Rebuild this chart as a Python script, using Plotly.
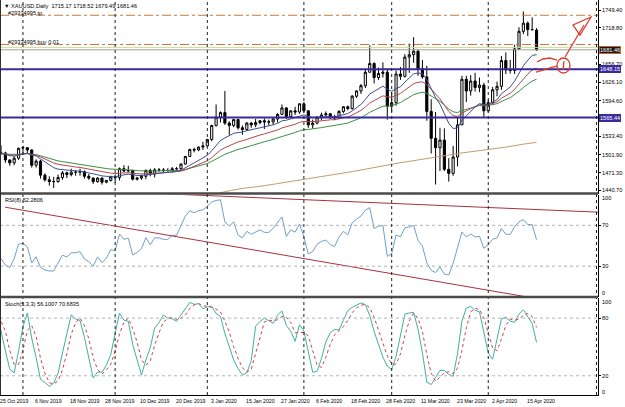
import plotly.graph_objects as go

# ---------------- data ----------------
dates = [
    "2019-10-24", "2019-10-25", "2019-10-28", "2019-10-29", "2019-10-30", "2019-10-31",
    "2019-11-01", "2019-11-04", "2019-11-05", "2019-11-06", "2019-11-07", "2019-11-08",
    "2019-11-11", "2019-11-12", "2019-11-13", "2019-11-14", "2019-11-15", "2019-11-18",
    "2019-11-19", "2019-11-20", "2019-11-21", "2019-11-22", "2019-11-25", "2019-11-26",
    "2019-11-27", "2019-11-28", "2019-11-29", "2019-12-02", "2019-12-03", "2019-12-04",
    "2019-12-05", "2019-12-06", "2019-12-09", "2019-12-10", "2019-12-11", "2019-12-12",
    "2019-12-13", "2019-12-16", "2019-12-17", "2019-12-18", "2019-12-19", "2019-12-20",
    "2019-12-23", "2019-12-24", "2019-12-26", "2019-12-27", "2019-12-30", "2019-12-31",
    "2020-01-02", "2020-01-03", "2020-01-06", "2020-01-07", "2020-01-08", "2020-01-09",
    "2020-01-10", "2020-01-13", "2020-01-14", "2020-01-15", "2020-01-16", "2020-01-17",
    "2020-01-20", "2020-01-21", "2020-01-22", "2020-01-23", "2020-01-24", "2020-01-27",
    "2020-01-28", "2020-01-29", "2020-01-30", "2020-01-31", "2020-02-03", "2020-02-04",
    "2020-02-05", "2020-02-06", "2020-02-07", "2020-02-10", "2020-02-11", "2020-02-12",
    "2020-02-13", "2020-02-14", "2020-02-17", "2020-02-18", "2020-02-19", "2020-02-20",
    "2020-02-21", "2020-02-24", "2020-02-25", "2020-02-26", "2020-02-27", "2020-02-28",
    "2020-03-02", "2020-03-03", "2020-03-04", "2020-03-05", "2020-03-06", "2020-03-09",
    "2020-03-10", "2020-03-11", "2020-03-12", "2020-03-13", "2020-03-16", "2020-03-17",
    "2020-03-18", "2020-03-19", "2020-03-20", "2020-03-23", "2020-03-24", "2020-03-25",
    "2020-03-26", "2020-03-27", "2020-03-30", "2020-03-31", "2020-04-01", "2020-04-02",
    "2020-04-03", "2020-04-06", "2020-04-07", "2020-04-08", "2020-04-09", "2020-04-13",
    "2020-04-14", "2020-04-15", "2020-04-16", "2020-04-17",
]
open_ = [1491, 1504, 1505, 1493, 1488, 1496, 1513, 1514, 1510, 1484, 1491, 1467,
         1459, 1456, 1456, 1463, 1471, 1468, 1472, 1472, 1473, 1465, 1462, 1456,
         1462, 1455, 1458, 1464, 1463, 1478, 1474, 1475, 1460, 1462, 1465, 1475,
         1469, 1476, 1476, 1475, 1475, 1478, 1478, 1486, 1499, 1511, 1510, 1515,
         1517, 1528, 1552, 1566, 1574, 1556, 1552, 1562, 1548, 1545, 1556, 1553,
         1557, 1560, 1558, 1558, 1563, 1571, 1582, 1567, 1577, 1575, 1589, 1577,
         1553, 1556, 1566, 1570, 1572, 1567, 1565, 1576, 1584, 1581, 1602, 1611,
         1620, 1643, 1658, 1634, 1641, 1643, 1585, 1591, 1640, 1636, 1669, 1673,
         1679, 1649, 1635, 1576, 1530, 1514, 1527, 1477, 1470, 1498, 1553, 1631,
         1611, 1628, 1617, 1621, 1577, 1591, 1613, 1619, 1663, 1647, 1646, 1683,
         1713, 1727, 1716, 1715.17]
high = [1506, 1518, 1507, 1494, 1499, 1514, 1517, 1515, 1511, 1494, 1493, 1470,
        1465, 1464, 1468, 1474, 1473, 1478, 1476, 1478, 1475, 1469, 1463, 1463,
        1463, 1458, 1466, 1468, 1480, 1484, 1483, 1476, 1464, 1468, 1477, 1478,
        1479, 1479, 1479, 1479, 1481, 1481, 1487, 1500, 1512, 1514, 1516, 1524,
        1529, 1553, 1588, 1576, 1611, 1559, 1563, 1563, 1552, 1558, 1558, 1563,
        1561, 1564, 1562, 1566, 1573, 1588, 1583, 1578, 1584, 1590, 1592, 1578,
        1562, 1568, 1574, 1576, 1573, 1570, 1578, 1585, 1586, 1604, 1612, 1623,
        1649, 1689, 1660, 1651, 1660, 1649, 1609, 1646, 1652, 1674, 1692, 1703,
        1682, 1664, 1654, 1597, 1575, 1548, 1547, 1496, 1517, 1566, 1637, 1637,
        1638, 1642, 1634, 1625, 1596, 1618, 1627, 1671, 1677, 1664, 1690, 1720,
        1747, 1730, 1737, 1718.52]
low = [1490, 1502, 1488, 1483, 1484, 1493, 1504, 1504, 1480, 1480, 1461, 1456,
       1449, 1445, 1454, 1459, 1462, 1465, 1466, 1466, 1461, 1459, 1452, 1454,
       1451, 1453, 1456, 1454, 1458, 1472, 1472, 1458, 1458, 1459, 1460, 1465,
       1463, 1473, 1472, 1473, 1472, 1475, 1476, 1485, 1498, 1506, 1508, 1510,
       1516, 1525, 1550, 1557, 1553, 1536, 1549, 1545, 1536, 1543, 1548, 1549,
       1554, 1546, 1552, 1553, 1557, 1570, 1563, 1565, 1570, 1572, 1574, 1548,
       1547, 1554, 1561, 1568, 1563, 1561, 1563, 1573, 1578, 1579, 1599, 1606,
       1616, 1643, 1624, 1630, 1634, 1562, 1575, 1586, 1630, 1634, 1642, 1659,
       1637, 1632, 1560, 1504, 1451, 1474, 1474, 1456, 1466, 1482, 1553, 1592,
       1603, 1610, 1609, 1565, 1574, 1588, 1602, 1613, 1640, 1641, 1640, 1681,
       1708, 1705, 1714, 1679.49]
close = [1504, 1505, 1493, 1488, 1496, 1513, 1514, 1510, 1484, 1491, 1467, 1459,
         1456, 1456, 1463, 1471, 1468, 1472, 1472, 1473, 1465, 1462, 1456, 1462,
         1455, 1458, 1464, 1463, 1478, 1474, 1475, 1460, 1462, 1465, 1475, 1469,
         1476, 1476, 1475, 1475, 1478, 1478, 1486, 1499, 1511, 1510, 1515, 1517,
         1528, 1552, 1566, 1574, 1556, 1552, 1562, 1548, 1545, 1556, 1553, 1557,
         1560, 1558, 1558, 1563, 1571, 1582, 1567, 1577, 1575, 1589, 1577, 1553,
         1556, 1566, 1570, 1572, 1567, 1565, 1576, 1584, 1581, 1602, 1611, 1620,
         1643, 1658, 1634, 1641, 1643, 1585, 1591, 1640, 1636, 1669, 1673, 1679,
         1649, 1635, 1576, 1530, 1514, 1527, 1477, 1470, 1498, 1553, 1631, 1611,
         1628, 1617, 1621, 1577, 1591, 1613, 1619, 1663, 1647, 1646, 1683, 1713,
         1727, 1716, 1716, 1681.46]

# long moving average (tan line)
ma_long_dates = ["2020-01-07", "2020-01-13", "2020-01-21", "2020-01-28", "2020-02-04",
                 "2020-02-11", "2020-02-18", "2020-02-25", "2020-03-03", "2020-03-10",
                 "2020-03-17", "2020-03-24", "2020-03-31", "2020-04-07", "2020-04-14",
                 "2020-04-17"]
ma_long_vals = [1437, 1443, 1449, 1455, 1461, 1467, 1473, 1480, 1487, 1493,
                1499, 1505, 1510, 1515, 1520, 1523]

date_label_dates = ["2019-10-25", "2019-11-06", "2019-11-18", "2019-11-28", "2019-12-10",
                    "2019-12-20", "2020-01-03", "2020-01-15", "2020-01-27", "2020-02-06",
                    "2020-02-18", "2020-02-28", "2020-03-11", "2020-03-23", "2020-04-02",
                    "2020-04-15"]
date_label_text = ["25 Oct 2019", "6 Nov 2019", "18 Nov 2019", "28 Nov 2019", "10 Dec 2019",
                   "20 Dec 2019", "3 Jan 2020", "15 Jan 2020", "27 Jan 2020", "6 Feb 2020",
                   "18 Feb 2020", "28 Feb 2020", "11 Mar 2020", "23 Mar 2020", "2 Apr 2020",
                   "15 Apr 2020"]
month_grid_dates = ["2019-11-01", "2019-12-02", "2020-01-02", "2020-02-03", "2020-03-02",
                    "2020-04-01"]

price_ticks = [1749.40, 1718.80, 1656.70, 1626.10, 1594.60, 1533.40, 1501.90, 1471.30, 1440.70]
level_lines = [1648.15, 1565.44]
bid_price = 1681.46
bid_line2 = 1685.6
tp_level = 1740.5
entry_level = 1690.5

rsi_levels = [70, 30]
stoch_levels = [80, 20]

# RSI trend lines (bar index, value)
rsi_tl1_x = [1.9, 122.0]
rsi_tl1_y = [87.8, -1.0]
rsi_tl2_x = [37.9, 137.0]
rsi_tl2_y = [101.0, 82.9]

title_text = "\u25bc XAUUSD,Daily  1715.17 1718.52 1679.49 1681.46"
rsi_text = "RSI(8) 52.2806"
stoch_text = "Stoch(5,3,3) 56.1007 70.6835"

# ---------------- indicators ----------------
idx = list(range(len(dates)))
pos = {d: i for i, d in enumerate(dates)}


def ema(vals, n):
    a = 2.0 / (n + 1)
    out = [vals[0]]
    for v in vals[1:]:
        out.append(out[-1] + a * (v - out[-1]))
    return out


def rsi(c, p):
    ch = [c[i] - c[i - 1] for i in range(1, len(c))]
    ag = sum(max(d, 0) for d in ch[:p]) / p
    al = sum(max(-d, 0) for d in ch[:p]) / p
    out = [None]
    for d in ch:
        ag = (ag * (p - 1) + max(d, 0)) / p
        al = (al * (p - 1) + max(-d, 0)) / p
        out.append(100.0 if al == 0 else 100 - 100 / (1 + ag / al))
    return out


def stoch(h, l, c, k=5, s=3, d=3):
    n = len(c)
    hh = [max(h[max(0, i - k + 1):i + 1]) for i in range(n)]
    ll = [min(l[max(0, i - k + 1):i + 1]) for i in range(n)]
    K = []
    for i in range(n):
        j0 = max(0, i - s + 1)
        num = sum(c[j] - ll[j] for j in range(j0, i + 1))
        den = sum(hh[j] - ll[j] for j in range(j0, i + 1))
        K.append(100 * num / den if den else 50)
    D = [sum(K[max(0, i - d + 1):i + 1]) / len(K[max(0, i - d + 1):i + 1]) for i in range(n)]
    return K, D


ma_fast = ema(close, 12)
ma_mid = ema(close, 21)
ma_slow = ema(close, 34)
rsi_vals = rsi(close, 8)
st_k, st_d = stoch(high, low, close)

# ---------------- layout geometry ----------------
W, H = 625, 407
PW, PH = 598, 395


def fx(x):
    return x / PW


def fy(y):
    return 1 - y / PH


FONT = "Liberation Sans"

fig = go.Figure()

fig.add_trace(go.Candlestick(
    x=idx, open=open_, high=high, low=low, close=close,
    increasing=dict(line=dict(color="black", width=1), fillcolor="white"),
    decreasing=dict(line=dict(color="black", width=1), fillcolor="black"),
    whiskerwidth=0, xaxis="x", yaxis="y", showlegend=False, hoverinfo="skip",
))

for vals, col in [(ma_slow, "#3c8c46"), (ma_mid, "#b04a4a"), (ma_fast, "#3c4f96")]:
    fig.add_trace(go.Scatter(x=idx, y=vals, mode="lines", line=dict(color=col, width=1),
                             xaxis="x", yaxis="y", showlegend=False, hoverinfo="skip"))

fig.add_trace(go.Scatter(x=[pos[d] for d in ma_long_dates], y=ma_long_vals, mode="lines",
                         line=dict(color="#c49a6c", width=1, shape="spline"),
                         xaxis="x", yaxis="y", showlegend=False, hoverinfo="skip"))

# RSI
fig.add_trace(go.Scatter(x=idx, y=rsi_vals, mode="lines", line=dict(color="#6f9fcb", width=1),
                         xaxis="x", yaxis="y2", showlegend=False, hoverinfo="skip"))
for tx, ty in [(rsi_tl1_x, rsi_tl1_y), (rsi_tl2_x, rsi_tl2_y)]:
    fig.add_trace(go.Scatter(x=tx, y=ty, mode="lines", line=dict(color="#a8323c", width=1),
                             xaxis="x", yaxis="y2", showlegend=False, hoverinfo="skip"))

# Stochastic
fig.add_trace(go.Scatter(x=idx, y=st_k, mode="lines", line=dict(color="#3fb0a2", width=1),
                         xaxis="x", yaxis="y3", showlegend=False, hoverinfo="skip"))
fig.add_trace(go.Scatter(x=idx, y=st_d, mode="lines", line=dict(color="#d83c3c", width=1, dash="dot"),
                         xaxis="x", yaxis="y3", showlegend=False, hoverinfo="skip"))

shapes = []
# horizontal lines in main panel
for lv in level_lines:
    shapes.append(dict(type="line", xref="paper", yref="y", x0=0, x1=1, y0=lv, y1=lv,
                       line=dict(color="#3a2a9c", width=2)))
for lv, col in [(tp_level, "#c8783c"), (entry_level, "#c8783c")]:
    shapes.append(dict(type="line", xref="paper", yref="y", x0=0, x1=1, y0=lv, y1=lv,
                       line=dict(color=col, width=1, dash="dashdot")))
shapes.append(dict(type="line", xref="paper", yref="y", x0=0, x1=1, y0=bid_line2, y1=bid_line2,
                   line=dict(color="#c9d6a8", width=1)))
shapes.append(dict(type="line", xref="paper", yref="y", x0=0, x1=1, y0=bid_price, y1=bid_price,
                   line=dict(color="#98a888", width=1)))
# level lines in sub panels
for lv in rsi_levels:
    shapes.append(dict(type="line", xref="paper", yref="y2", x0=0, x1=1, y0=lv, y1=lv,
                       line=dict(color="#b4b4b4", width=1, dash="dot")))
for lv in stoch_levels:
    shapes.append(dict(type="line", xref="paper", yref="y3", x0=0, x1=1, y0=lv, y1=lv,
                       line=dict(color="#b4b4b4", width=1, dash="dot")))
# monthly vertical grid
for d in month_grid_dates:
    shapes.append(dict(type="line", xref="x", yref="paper", x0=pos[d], x1=pos[d], y0=0, y1=1,
                       line=dict(color="#202020", width=1, dash="dot")))
shapes.append(dict(type="line", xref="paper", yref="paper", x0=fx(596.5), x1=fx(596.5), y0=0, y1=1,
                   line=dict(color="#202020", width=1, dash="dot")))
# panel separators and frame
for yy in [193.5, 297]:
    shapes.append(dict(type="line", xref="paper", yref="paper", x0=0, x1=1, y0=fy(yy), y1=fy(yy),
                       line=dict(color="#4a4a4a", width=2.5)))
shapes.append(dict(type="line", xref="paper", yref="paper", x0=fx(0.5), x1=fx(0.5), y0=0, y1=1,
                   line=dict(color="#303030", width=1)))

# hand-drawn red marks
RED = "#e03a2a"


def path(pts, close_=False):
    s = "M " + " L ".join(f"{fx(a):.5f},{fy(b):.5f}" for a, b in pts)
    return s + (" Z" if close_ else "")


for pts, cl in [
    ([(537, 62), (543, 59), (550, 58), (557, 60)], False),
    ([(536, 72), (543, 70), (550, 68), (557, 66)], False),
    ([(564, 61), (563, 70)], False),
    ([(565, 57), (584, 25)], False),
    ([(591, 17), (573, 25), (580, 35)], True),
]:
    shapes.append(dict(type="path", xref="paper", yref="paper", path=path(pts, cl),
                       line=dict(color=RED, width=1.3)))
shapes.append(dict(type="circle", xref="paper", yref="paper", x0=fx(557), x1=fx(570),
                   y0=fy(73), y1=fy(58), line=dict(color=RED, width=1.3)))

annotations = []
small = dict(family=FONT, size=5.6, color="black")
tiny = dict(family=FONT, size=5.2, color="black")
annotations.append(dict(text=title_text, xref="paper", yref="paper", x=fx(2), y=fy(6),
                        xanchor="left", yanchor="middle", showarrow=False, font=small))
annotations.append(dict(text="#29334995 tp", xref="paper", yref="paper", x=fx(6), y=fy(13),
                        xanchor="left", yanchor="middle", showarrow=False, font=small))
annotations.append(dict(text="#29334995 buy 0.01", xref="paper", yref="paper", x=fx(6), y=fy(41.5),
                        xanchor="left", yanchor="middle", showarrow=False, font=small))
annotations.append(dict(text=rsi_text, xref="paper", yref="paper", x=fx(3), y=fy(200),
                        xanchor="left", yanchor="middle", showarrow=False, font=small))
annotations.append(dict(text=stoch_text, xref="paper", yref="paper", x=fx(3), y=fy(304),
                        xanchor="left", yanchor="middle", showarrow=False, font=small))
for d, t in zip(date_label_dates, date_label_text):
    annotations.append(dict(text=t, xref="x", yref="paper", x=pos[d], y=0, xanchor="left",
                            yanchor="top", yshift=-1, xshift=-3, showarrow=False, font=tiny))
# highlighted price labels
for lv, bg, bd in [(bid_price, "#141414", "#d2642a"), (level_lines[0], "#3a2a9c", "#3a2a9c"),
                   (level_lines[1], "#3a2a9c", "#3a2a9c")]:
    annotations.append(dict(text=f"{lv:.2f}", xref="paper", yref="y", x=1, y=lv, xanchor="left",
                            yanchor="middle", xshift=1, showarrow=False,
                            font=dict(family=FONT, size=5.6, color="white"),
                            bgcolor=bg, bordercolor=bd, borderwidth=1, borderpad=0))
# sub-panel edge labels
for txt, yy in [("100", 197.5), ("0", 292.5), ("100", 302), ("0", 391.5)]:
    annotations.append(dict(text=txt, xref="paper", yref="paper", x=1, y=fy(yy), xanchor="left",
                            yanchor="middle", xshift=2, showarrow=False, font=small))

axis_common = dict(showgrid=False, zeroline=False, side="right", anchor="x",
                   ticks="outside", ticklen=2, tickcolor="black",
                   tickfont=dict(family=FONT, size=5.6, color="black"),
                   showline=True, linecolor="black", linewidth=1)

fig.update_layout(
    width=W, height=H,
    margin=dict(l=0, r=W - PW, t=0, b=H - PH),
    paper_bgcolor="white", plot_bgcolor="white",
    showlegend=False,
    xaxis=dict(range=[0.77, 137.0], anchor="y3", showgrid=False, zeroline=False,
               showticklabels=False, ticks="", showline=True, linecolor="black",
               rangeslider=dict(visible=False), fixedrange=True),
    yaxis=dict(domain=[fy(193.5), 1], range=[1435.6, 1766.6], tickvals=price_ticks,
               ticktext=[f"{v:.2f}" for v in price_ticks], **axis_common),
    yaxis2=dict(domain=[fy(297), fy(194.5)], range=[-0.2, 100.2], tickvals=[70, 30],
                ticktext=["70", "30"], **axis_common),
    yaxis3=dict(domain=[0, fy(297.5)], range=[0.0, 101.5], tickvals=[80, 20],
                ticktext=["80", "20"], **axis_common),
    shapes=shapes,
    annotations=annotations,
)

fig.write_html("out.html")
